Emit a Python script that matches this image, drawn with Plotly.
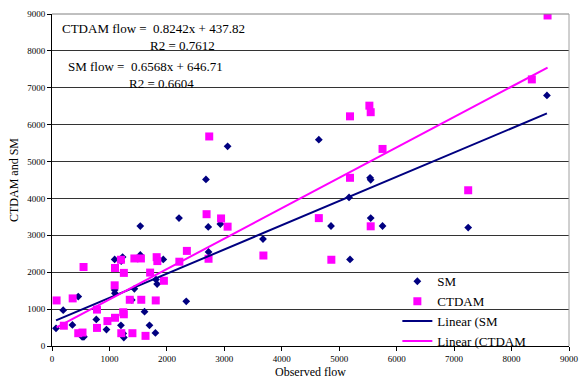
import plotly.graph_objects as go
import numpy as np

# SM (navy diamonds)
sm_x = [70, 195, 355, 457, 525, 555, 771, 948, 1091, 1091, 1095, 1200, 1205, 1229, 1240, 1250,
        1389, 1434, 1537, 1537, 1611, 1697, 1800, 1810, 1830, 1937, 2211, 2337, 2680, 2720,
        2725, 2931, 3057, 3673, 4645, 4857, 5171, 5188, 5537, 5548, 5548, 5754, 7245, 8616]
sm_y = [480, 970, 570, 1340, 250, 250, 720, 445, 2347, 1520, 1430, 560, 2300, 2410, 340, 230,
        1250, 1550, 3250, 2470, 930, 560, 355, 1800, 1680, 2347, 3467, 1210, 4515, 3227,
        2550, 3307, 5413, 2900, 5592, 3253, 4027, 2347, 4560, 4507, 3467, 3253, 3209, 6792]

# CTDAM (magenta squares)
ct_x = [80, 206, 360, 457, 531, 549, 783, 783, 965, 1097, 1240, 1250, 1206, 1400, 1628,
        1097, 1091, 1200, 1251, 1354, 1434, 1548, 1554, 1708, 1806, 1822, 1834, 1948, 2217,
        2348, 2737, 2691, 2943, 3057, 3680, 2725, 5525, 5548, 5188, 5754, 5188, 4645, 5548,
        4863, 8627, 8353, 7245]
ct_y = [1235, 550, 1290, 347, 365, 2142, 987, 490, 675, 765, 915, 860, 347, 347, 275,
        2115, 1645, 2338, 1982, 1253, 2373, 2373, 1253, 1990, 1235, 2408, 2302, 1768, 2285,
        2578, 5680, 3573, 3458, 3235, 2453, 2365, 6515, 6338, 6226, 5342, 4560, 3467, 3245,
        2338, 8960, 7227, 4222]

# Trendline coefficients (slope, intercept) as stated on the chart
sm_fit = [0.6568, 646.71]
ct_fit = [0.8242, 437.82]

x_ticks = [0, 1000, 2000, 3000, 4000, 5000, 6000, 7000, 8000, 9000]
y_ticks = [0, 1000, 2000, 3000, 4000, 5000, 6000, 7000, 8000, 9000]

NAVY = "#000080"
MAG = "#FF00FF"
SERIF = "Liberation Serif, Times New Roman, serif"

fig = go.Figure()
fig.add_trace(go.Scatter(x=sm_x, y=sm_y, mode="markers", name="SM",
                         marker=dict(symbol="diamond", size=6, color=NAVY)))
fig.add_trace(go.Scatter(x=ct_x, y=ct_y, mode="markers", name="CTDAM",
                         marker=dict(symbol="square", size=8, color=MAG)))

sx = np.array([min(sm_x), max(sm_x)])
cx = np.array([min(ct_x), max(ct_x)])
fig.add_trace(go.Scatter(x=sx, y=sm_fit[0] * sx + sm_fit[1], mode="lines", name="Linear (SM",
                         line=dict(color=NAVY, width=2)))
fig.add_trace(go.Scatter(x=cx, y=ct_fit[0] * cx + ct_fit[1], mode="lines", name="Linear (CTDAM",
                         line=dict(color=MAG, width=2)))

fig.update_layout(
    width=588, height=385,
    margin=dict(l=52, r=11, t=9, b=38),
    paper_bgcolor="white", plot_bgcolor="white",
    font=dict(family=SERIF, color="black", size=12),
    showlegend=True,
    legend=dict(x=0.668, y=0.24, xanchor="left", yanchor="top",
                bgcolor="rgba(0,0,0,0)", font=dict(size=13, family=SERIF),
                itemwidth=30, tracegroupgap=0),
    xaxis=dict(range=[0, 9000], tickvals=x_ticks, ticktext=[str(t) for t in x_ticks],
               showgrid=False, zeroline=False, showline=True, linecolor="black", linewidth=1,
               ticks="outside", ticklen=4, tickcolor="black", tickfont=dict(size=9, family=SERIF),
               title=dict(text="Observed flow", font=dict(size=12, family=SERIF), standoff=4)),
    yaxis=dict(range=[0, 9000], tickvals=y_ticks, ticktext=[str(t) for t in y_ticks],
               showgrid=True, gridcolor="#333333", gridwidth=1, zeroline=False,
               showline=True, linecolor="black", linewidth=1,
               ticks="outside", ticklen=4, tickcolor="black", tickfont=dict(size=9, family=SERIF),
               title=dict(text="CTDAM and SM", font=dict(size=12, family=SERIF), standoff=6)),
    shapes=[
        dict(type="line", xref="paper", yref="paper", x0=0, x1=1, y0=1, y1=1,
             line=dict(color="#808080", width=1)),
        dict(type="line", xref="paper", yref="paper", x0=1, x1=1, y0=0, y1=1,
             line=dict(color="#a0a0a0", width=1)),
    ],
    annotations=[
        dict(xref="paper", yref="paper", x=0.015, y=0.985, xanchor="left", yanchor="top",
             text="CTDAM flow =  0.8242x + 437.82", showarrow=False, font=dict(size=13, family=SERIF)),
        dict(xref="paper", yref="paper", x=0.185, y=0.935, xanchor="left", yanchor="top",
             text="R2 = 0.7612", showarrow=False, font=dict(size=13, family=SERIF)),
        dict(xref="paper", yref="paper", x=0.028, y=0.87, xanchor="left", yanchor="top",
             text="SM flow =  0.6568x + 646.71", showarrow=False, font=dict(size=13, family=SERIF)),
        dict(xref="paper", yref="paper", x=0.145, y=0.82, xanchor="left", yanchor="top",
             text="R2 = 0.6604", showarrow=False, font=dict(size=13, family=SERIF)),
    ],
)

fig.write_html("out.html")
